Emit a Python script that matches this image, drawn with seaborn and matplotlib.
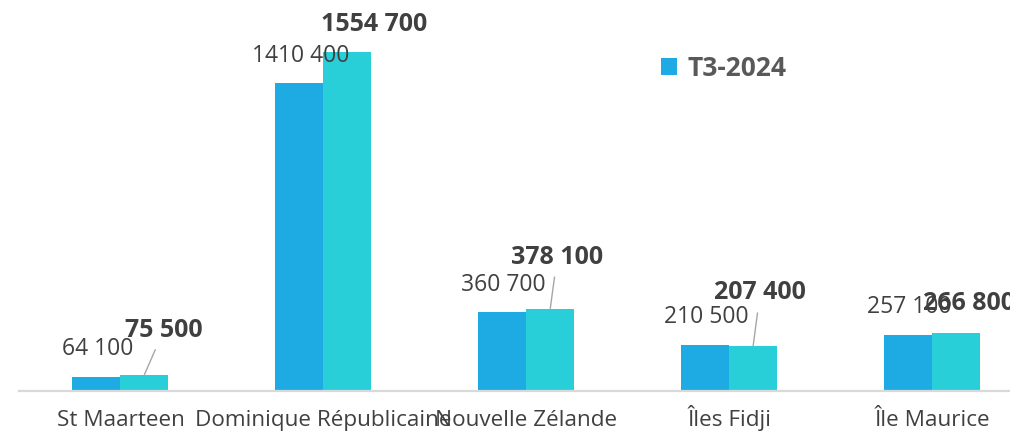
import matplotlib
matplotlib.use("Agg")
import matplotlib.pyplot as plt
import seaborn as sns
import pandas as pd
from matplotlib.patches import Patch

categories = ["St Maarteen", "Dominique Républicaine", "Nouvelle Zélande", "Îles Fidji", "Île Maurice"]
series_names = ["T3-2024", "T3-2025"]
values_2024 = [64100, 1410400, 360700, 210500, 257100]
values_2025 = [75500, 1554700, 378100, 207400, 266800]
legend_labels = ["T3-2024"]

colors = ["#1EABE3", "#29CFD8"]
# label offsets (points) for the bold series labels, relative to the bar top
offsets_b = [(14, 32), (19, 20), (5, 37), (5, 38), (9, 21)]
leaders = [True, False, True, True, False]

df = pd.DataFrame({
    "cat": categories * 2,
    "serie": [series_names[0]] * len(categories) + [series_names[1]] * len(categories),
    "val": values_2024 + values_2025,
})

sns.set_theme(style="white")
plt.rcParams["font.family"] = ["Open Sans", "DejaVu Sans"]

fig = plt.figure(figsize=(10.10, 4.37), dpi=100)
ax = fig.add_axes([19 / 1010, 46 / 437, (1010 - 19) / 1010, 391 / 437])
sns.barplot(data=df, x="cat", y="val", hue="serie", order=categories, hue_order=series_names,
            palette=colors, width=0.473, ax=ax, legend=False, saturation=1, linewidth=0)

ax.set_xlim(-0.5, 4.384)
ax.set_ylim(0, 1.793e6)
for s in ["top", "right", "left"]:
    ax.spines[s].set_visible(False)
ax.spines["bottom"].set_color("#D9D9D9")
ax.spines["bottom"].set_linewidth(1.6)
ax.set_yticks([])
ax.set_xlabel("")
ax.set_ylabel("")
ax.tick_params(axis="x", length=0, pad=25, labelsize=16.2, labelcolor="#404040")
for t in ax.get_xticklabels():
    t.set_verticalalignment("baseline")


def fmt(v):
    return f"{v // 1000} {v % 1000:03d}"


bw = 0.473 / 2
for i, v in enumerate(values_2024):
    ax.annotate(fmt(v), xy=(i - bw / 2, v), xytext=(1, 20), textcoords="offset points",
                ha="center", va="center", fontsize=16.5, color="#404040")
for i, v in enumerate(values_2025):
    dx, dy = offsets_b[i]
    kw = {}
    if leaders[i]:
        kw["arrowprops"] = dict(arrowstyle="-", color="#A6A6A6", lw=1, shrinkA=3, shrinkB=0)
    ax.annotate(fmt(v), xy=(i + bw / 2, v), xytext=(dx, dy), textcoords="offset points",
                ha="center", va="center", fontsize=18, fontweight="bold", color="#404040", **kw)

handles = [Patch(facecolor=colors[0], edgecolor="none")]
leg = fig.legend(handles, legend_labels, loc="center left", bbox_to_anchor=(637 / 1010, 1 - 68 / 437),
                 frameon=False, handlelength=0.62, handleheight=0.62, handletextpad=0.4,
                 prop={"weight": "bold", "size": 19})
for t in leg.get_texts():
    t.set_color("#595959")

fig.savefig("out.png", dpi=100)
